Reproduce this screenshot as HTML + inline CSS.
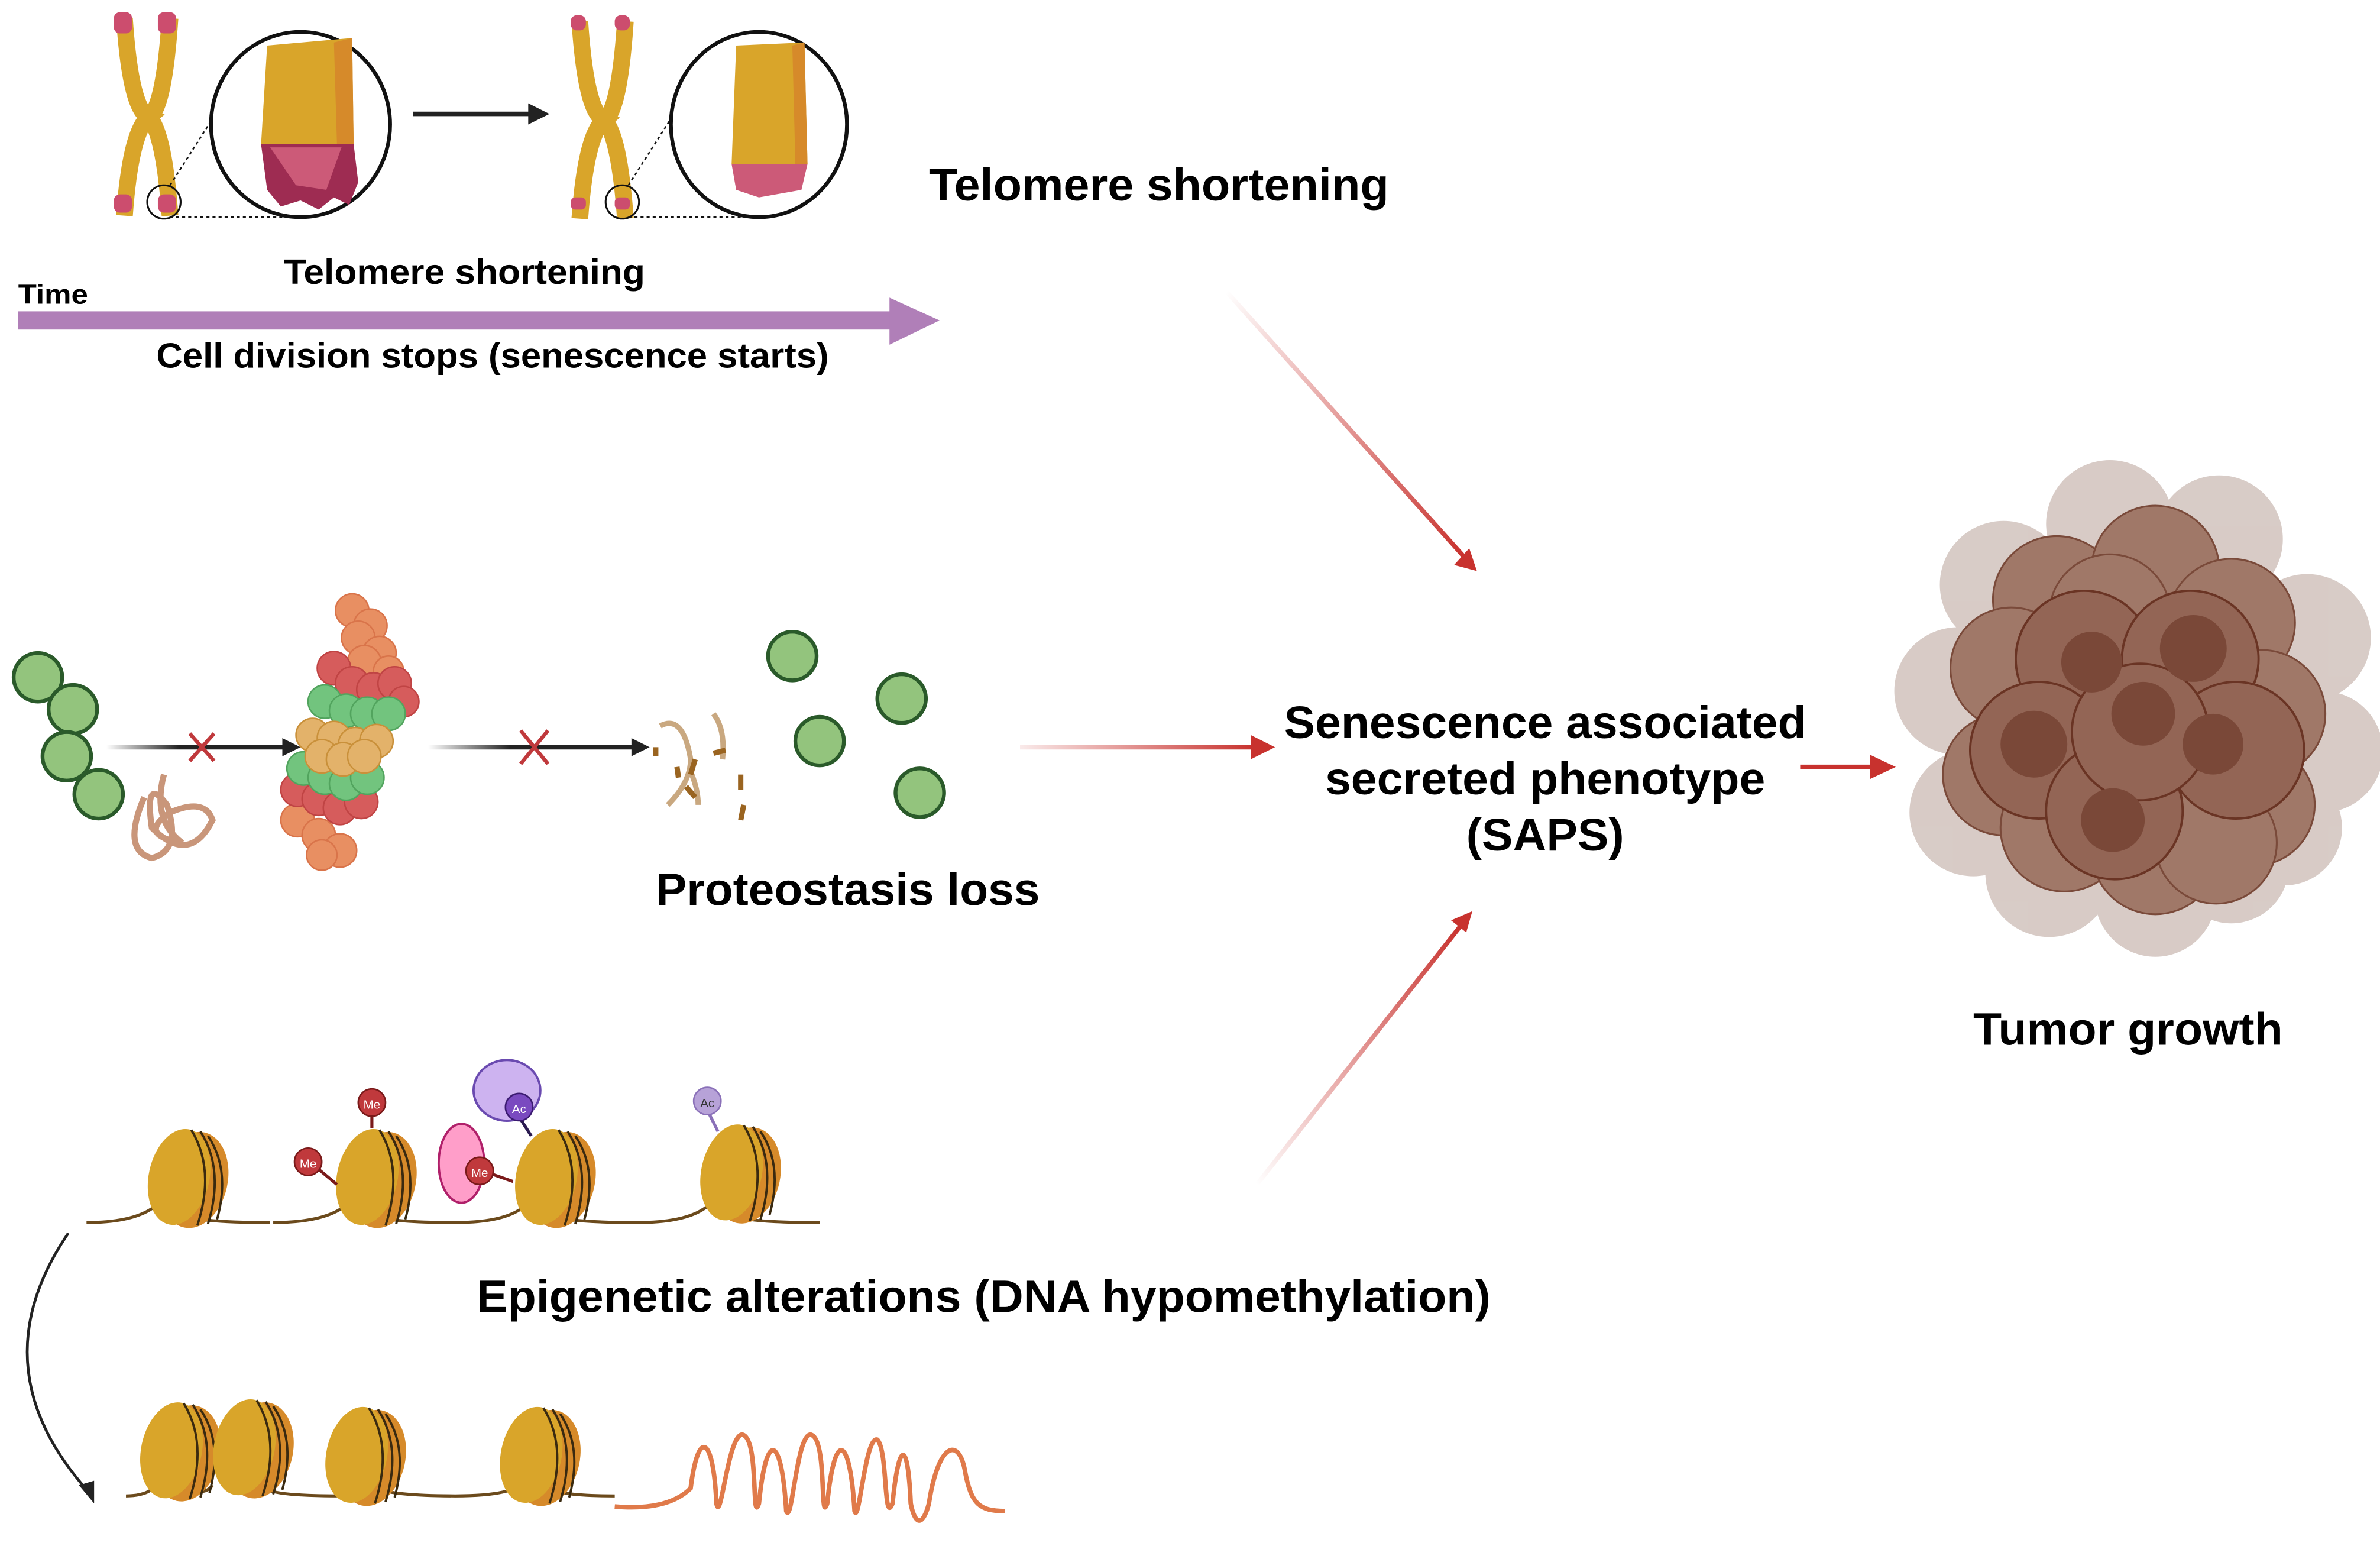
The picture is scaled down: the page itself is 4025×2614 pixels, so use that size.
<!DOCTYPE html>
<html><head><meta charset="utf-8"><style>html,body{margin:0;padding:0;background:#fff}svg{display:block}</style></head>
<body>
<svg xmlns="http://www.w3.org/2000/svg" width="4025" height="2614" viewBox="0 0 1568 1018" preserveAspectRatio="none" font-family="Liberation Sans, sans-serif" font-weight="bold">
<defs>
<linearGradient id="g1" x1="0" y1="0" x2="1" y2="1"><stop offset="0" stop-color="#c8322e" stop-opacity="0"/><stop offset="1" stop-color="#c8322e"/></linearGradient>
<linearGradient id="g2" gradientUnits="userSpaceOnUse" x1="672" y1="0" x2="826" y2="0"><stop offset="0" stop-color="#c8322e" stop-opacity="0.1"/><stop offset="1" stop-color="#c8322e"/></linearGradient>
<linearGradient id="g3" x1="0" y1="1" x2="1" y2="0"><stop offset="0" stop-color="#c8322e" stop-opacity="0"/><stop offset="1" stop-color="#c8322e"/></linearGradient>
<linearGradient id="gk1" gradientUnits="userSpaceOnUse" x1="70" y1="0" x2="190" y2="0"><stop offset="0" stop-color="#222" stop-opacity="0"/><stop offset="0.4" stop-color="#222"/></linearGradient>
<linearGradient id="gk2" gradientUnits="userSpaceOnUse" x1="282" y1="0" x2="418" y2="0"><stop offset="0" stop-color="#222" stop-opacity="0"/><stop offset="0.4" stop-color="#222"/></linearGradient>
<g id="nuc">
 <ellipse cx="8" cy="2" rx="22" ry="32" fill="#d68a2a" transform="rotate(12 8 2)"/>
 <ellipse cx="-2" cy="0" rx="20" ry="32" fill="#d9a52a" transform="rotate(12 -2 0)"/>
 <path d="M6,-31 Q22,-5 10,32 M12,-30 Q28,-5 17,31 M17,-27 Q32,-5 23,28" stroke="#3a2a10" stroke-width="1.5" fill="none"/>
</g>
<g id="xch">
 <path d="M2,0 Q6,60 18,65 Q6,75 2,130" stroke="#d9a52a" stroke-width="11" fill="none"/>
 <path d="M32,0 Q28,60 18,65 Q28,75 32,130" stroke="#d9a52a" stroke-width="11" fill="none"/>
</g>
</defs>

<!-- chromosomes -->
<use href="#xch" x="80" y="12"/>
<rect x="75" y="8" width="12" height="14" fill="#cc4d6e" rx="4"/><rect x="104" y="8" width="12" height="14" fill="#cc4d6e" rx="4"/>
<rect x="75" y="128" width="12" height="12" fill="#cc4d6e" rx="4"/><rect x="104" y="128" width="12" height="12" fill="#cc4d6e" rx="4"/>
<ellipse cx="108" cy="133" rx="11" ry="11" fill="none" stroke="#111" stroke-width="1.2"/>
<path d="M112,122 L158,50 M112,143 L205,143" stroke="#111" stroke-dasharray="2 2" fill="none"/>
<ellipse cx="198" cy="82" rx="59" ry="61" fill="#fff" stroke="#111" stroke-width="2.5"/>
<path d="M176,30 L232,25 L233,95 L172,95 Z" fill="#d9a52a"/><path d="M220,28 L232,25 L233,95 L222,95 Z" fill="#d68a2a"/>
<path d="M172,95 L233,95 L236,120 L230,135 L220,130 L210,138 L198,132 L185,136 L176,125 Z" fill="#9e2c52"/>
<path d="M178,97 L225,97 L215,125 L195,122 Z" fill="#cc5a78"/>
<path d="M272,75 L350,75" stroke="#222" stroke-width="3"/><polygon points="348,68 362,75 348,82" fill="#222"/>
<use href="#xch" x="380" y="14"/>
<rect x="376" y="10" width="10" height="10" fill="#cc4d6e" rx="4"/><rect x="405" y="10" width="10" height="10" fill="#cc4d6e" rx="4"/>
<rect x="376" y="130" width="10" height="8" fill="#cc4d6e" rx="3"/><rect x="405" y="130" width="10" height="8" fill="#cc4d6e" rx="3"/>
<ellipse cx="410" cy="133" rx="11" ry="11" fill="none" stroke="#111" stroke-width="1.2"/>
<path d="M414,122 L460,50 M414,143 L505,143" stroke="#111" stroke-dasharray="2 2" fill="none"/>
<ellipse cx="500" cy="82" rx="58" ry="61" fill="#fff" stroke="#111" stroke-width="2.5"/>
<path d="M485,30 L530,28 L532,108 L482,108 Z" fill="#d9a52a"/><path d="M522,30 L530,28 L532,108 L524,108 Z" fill="#d68a2a"/>
<path d="M482,108 L532,108 L528,125 L500,130 L485,125 Z" fill="#cc5a78"/>
<text x="612" y="132" font-size="30" textLength="303" lengthAdjust="spacingAndGlyphs">Telomere shortening</text>
<text x="187" y="187" font-size="23" textLength="238" lengthAdjust="spacingAndGlyphs">Telomere shortening</text>
<text x="12" y="200" font-size="18" textLength="46" lengthAdjust="spacingAndGlyphs">Time</text>
<rect x="12" y="205" width="576" height="12" fill="#b07fb8"/><polygon points="586,196 619,211 586,227" fill="#b07fb8"/>
<text x="103" y="242" font-size="23" textLength="443" lengthAdjust="spacingAndGlyphs">Cell division stops (senescence starts)</text>

<!-- red arrows -->
<line x1="808" y1="192" x2="964" y2="366" stroke="url(#g1)" stroke-width="3"/><polygon points="958,372 973,376 968,361" fill="#c8322e"/>
<line x1="672" y1="492" x2="826" y2="492" stroke="url(#g2)" stroke-width="3"/><polygon points="824,484 840,492 824,500" fill="#c8322e"/>
<line x1="828" y1="780" x2="962" y2="610" stroke="url(#g3)" stroke-width="3"/><polygon points="956,606 970,600 966,614" fill="#c8322e"/>
<line x1="1186" y1="505" x2="1234" y2="505" stroke="#c8322e" stroke-width="3"/><polygon points="1232,497 1249,505 1232,513" fill="#c8322e"/>

<text x="1018" y="486" font-size="30" text-anchor="middle" textLength="344" lengthAdjust="spacingAndGlyphs">Senescence associated</text>
<text x="1018" y="523" font-size="30" text-anchor="middle" textLength="290" lengthAdjust="spacingAndGlyphs">secreted phenotype</text>
<text x="1018" y="560" font-size="30" text-anchor="middle" textLength="104" lengthAdjust="spacingAndGlyphs">(SAPS)</text>
<text x="432" y="596" font-size="30" textLength="253" lengthAdjust="spacingAndGlyphs">Proteostasis loss</text>
<text x="1300" y="688" font-size="30" textLength="204" lengthAdjust="spacingAndGlyphs">Tumor growth</text>
<text x="314" y="864" font-size="30" textLength="668" lengthAdjust="spacingAndGlyphs">Epigenetic alterations (DNA hypomethylation)</text>

<!-- proteostasis -->
<g fill="#93c47d" stroke="#2a5a2a" stroke-width="2.5">
<circle cx="25" cy="446" r="16"/><circle cx="48" cy="467" r="16"/><circle cx="44" cy="498" r="16"/><circle cx="65" cy="523" r="16"/>
<circle cx="522" cy="432" r="16"/><circle cx="594" cy="460" r="16"/><circle cx="540" cy="488" r="16"/><circle cx="606" cy="522" r="16"/>
</g>
<path d="M95,525 Q80,560 100,565 Q120,560 110,530 Q95,510 100,545 Q125,570 140,540 Q135,525 112,535 Q90,550 120,555 Q100,540 108,510" stroke="#c9967a" stroke-width="4" fill="none"/>
<line x1="70" y1="492" x2="188" y2="492" stroke="url(#gk1)" stroke-width="3"/><polygon points="186,486 198,492 186,498" fill="#222"/>
<path d="M125,483 L141,501 M141,483 L125,501" stroke="#c0393c" stroke-width="2.5"/>
<line x1="282" y1="492" x2="418" y2="492" stroke="url(#gk2)" stroke-width="3"/><polygon points="416,486 428,492 416,498" fill="#222"/>
<path d="M343,481 L361,503 M361,481 L343,503" stroke="#c0393c" stroke-width="2.5"/>
<g stroke-width="1">
<g fill="#e88f62" stroke="#d9744a"><circle cx="232" cy="402" r="11"/><circle cx="244" cy="412" r="11"/><circle cx="236" cy="420" r="11"/><circle cx="250" cy="430" r="11"/><circle cx="240" cy="436" r="11"/><circle cx="256" cy="442" r="10"/>
<circle cx="196" cy="540" r="11"/><circle cx="210" cy="550" r="11"/><circle cx="224" cy="560" r="11"/><circle cx="212" cy="563" r="10"/></g>
<g fill="#d65c5c" stroke="#c04444"><circle cx="220" cy="440" r="11"/><circle cx="232" cy="450" r="11"/><circle cx="246" cy="454" r="11"/><circle cx="260" cy="450" r="11"/><circle cx="266" cy="462" r="10"/>
<circle cx="196" cy="520" r="11"/><circle cx="210" cy="526" r="11"/><circle cx="224" cy="532" r="11"/><circle cx="238" cy="528" r="11"/></g>
<g fill="#72c47e" stroke="#52a45e"><circle cx="214" cy="462" r="11"/><circle cx="228" cy="468" r="11"/><circle cx="242" cy="470" r="11"/><circle cx="256" cy="470" r="11"/>
<circle cx="200" cy="506" r="11"/><circle cx="214" cy="512" r="11"/><circle cx="228" cy="516" r="11"/><circle cx="242" cy="512" r="11"/></g>
<g fill="#e3b26a" stroke="#c9903a"><circle cx="206" cy="484" r="11"/><circle cx="220" cy="486" r="11"/><circle cx="234" cy="490" r="11"/><circle cx="248" cy="488" r="11"/><circle cx="212" cy="498" r="11"/><circle cx="226" cy="500" r="11"/><circle cx="240" cy="498" r="11"/></g>
</g>
<g stroke="#c9a880" stroke-width="3.5" fill="none"><path d="M435,478 Q450,470 455,500"/><path d="M440,530 Q455,515 455,500"/><path d="M455,508 Q460,520 460,530"/><path d="M470,470 Q478,480 476,500"/></g>
<g stroke="#9a6420" stroke-width="3.5" fill="none"><path d="M432,492 L432,498"/><path d="M446,505 L447,512"/><path d="M458,500 L455,510"/><path d="M470,496 L478,494"/><path d="M488,510 L488,520"/><path d="M490,530 L488,540"/><path d="M452,518 L458,525"/></g>

<!-- nucleosomes top -->
<path d="M57,805 Q100,805 110,785 M120,800 Q130,805 178,805 M180,805 Q225,805 235,785 M245,800 Q255,805 300,805 Q345,805 352,785 M362,800 Q372,805 420,805 Q465,805 473,785 M483,800 Q490,805 540,805" stroke="#6b4a1c" stroke-width="2" fill="none"/>
<use href="#nuc" x="120" y="775"/><use href="#nuc" x="244" y="775"/><use href="#nuc" x="362" y="775"/><use href="#nuc" x="484" y="772"/>
<line x1="245" y1="743" x2="245" y2="735" stroke="#7a1a1a" stroke-width="2"/><circle cx="245" cy="726" r="9" fill="#c0393c" stroke="#7a1a1a"/><text x="245" y="730" font-size="8" fill="#fff" text-anchor="middle" font-weight="normal">Me</text>
<line x1="210" y1="770" x2="222" y2="780" stroke="#7a1a1a" stroke-width="2"/><circle cx="203" cy="765" r="9" fill="#c0393c" stroke="#7a1a1a"/><text x="203" y="769" font-size="8" fill="#fff" text-anchor="middle" font-weight="normal">Me</text>
<ellipse cx="304" cy="766" rx="15" ry="26" fill="#ff9ec9" stroke="#b0206a" stroke-width="1.5"/>
<line x1="318" y1="771" x2="338" y2="778" stroke="#7a1a1a" stroke-width="2"/><circle cx="316" cy="771" r="9" fill="#c0393c" stroke="#7a1a1a"/><text x="316" y="775" font-size="8" fill="#fff" text-anchor="middle" font-weight="normal">Me</text>
<ellipse cx="334" cy="718" rx="22" ry="20" fill="#cdb3f0" stroke="#6a4ab0" stroke-width="1.5"/>
<line x1="343" y1="737" x2="350" y2="748" stroke="#2a1a50" stroke-width="2"/><circle cx="342" cy="729" r="9" fill="#7a4ac0" stroke="#3a1a70"/><text x="342" y="733" font-size="8" fill="#fff" text-anchor="middle" font-weight="normal">Ac</text>
<line x1="467" y1="733" x2="473" y2="745" stroke="#8a70b8" stroke-width="2"/><circle cx="466" cy="725" r="9" fill="#b7a2d8" stroke="#8a70b8"/><text x="466" y="729" font-size="8" fill="#333" text-anchor="middle" font-weight="normal">Ac</text>

<!-- curved arrow -->
<path d="M45,812 Q-15,900 58,982" stroke="#222" stroke-width="1.8" fill="none"/><polygon points="52,978 62,990 62,975" fill="#222"/>

<!-- nucleosomes bottom -->
<path d="M83,985 Q100,985 105,975 M125,980 Q135,985 140,978 M175,980 Q180,985 225,985 Q230,980 232,975 M247,980 Q260,985 300,985 Q340,985 345,975 M360,980 Q370,985 405,985" stroke="#6b4a1c" stroke-width="2" fill="none"/>
<use href="#nuc" x="115" y="955"/><use href="#nuc" x="163" y="953"/><use href="#nuc" x="237" y="958"/><use href="#nuc" x="352" y="958"/>
<path d="M405,992 Q440,995 455,980 C460,940 470,945 472,990 C475,1005 480,940 490,945 C500,950 495,1005 500,990 C505,940 515,945 518,995 C522,1005 525,940 535,945 C545,950 540,1005 545,990 C550,940 560,945 563,995 C566,1005 570,945 578,948 C585,955 582,1005 588,990 C592,950 598,945 600,990 C603,1005 608,1005 612,990 C618,950 632,945 636,970 C640,990 645,995 662,995" stroke="#e07a4a" stroke-width="3" fill="none"/>

<!-- tumor -->
<g fill="#d6c9c4" opacity="0.95">
<circle cx="1390" cy="345" r="42"/><circle cx="1462" cy="355" r="42"/><circle cx="1320" cy="385" r="42"/><circle cx="1520" cy="420" r="42"/>
<circle cx="1290" cy="455" r="42"/><circle cx="1530" cy="495" r="40"/><circle cx="1300" cy="535" r="42"/><circle cx="1505" cy="545" r="38"/>
<circle cx="1350" cy="575" r="42"/><circle cx="1420" cy="590" r="40"/><circle cx="1470" cy="570" r="38"/>
</g>
<g fill="#a07868" stroke="#7a4a3a" stroke-width="1.2">
<circle cx="1355" cy="395" r="42"/><circle cx="1420" cy="375" r="42"/><circle cx="1470" cy="410" r="42"/><circle cx="1325" cy="440" r="40"/>
<circle cx="1320" cy="510" r="40"/><circle cx="1490" cy="470" r="42"/><circle cx="1485" cy="530" r="40"/><circle cx="1360" cy="545" r="42"/>
<circle cx="1420" cy="560" r="42"/><circle cx="1460" cy="555" r="40"/><circle cx="1390" cy="405" r="40"/>
</g>
<g fill="#936555" stroke="#6a3424" stroke-width="1.5">
<circle cx="1373" cy="434" r="45"/><circle cx="1443" cy="434" r="45"/><circle cx="1343" cy="494" r="45"/><circle cx="1473" cy="494" r="45"/>
<circle cx="1393" cy="534" r="45"/><circle cx="1410" cy="482" r="45"/>
</g>
<g fill="#7a4838">
<circle cx="1378" cy="436" r="20"/><circle cx="1445" cy="427" r="22"/><circle cx="1340" cy="490" r="22"/><circle cx="1458" cy="490" r="20"/>
<circle cx="1392" cy="540" r="21"/><circle cx="1412" cy="470" r="21"/>
</g>
</svg>
</body></html>
